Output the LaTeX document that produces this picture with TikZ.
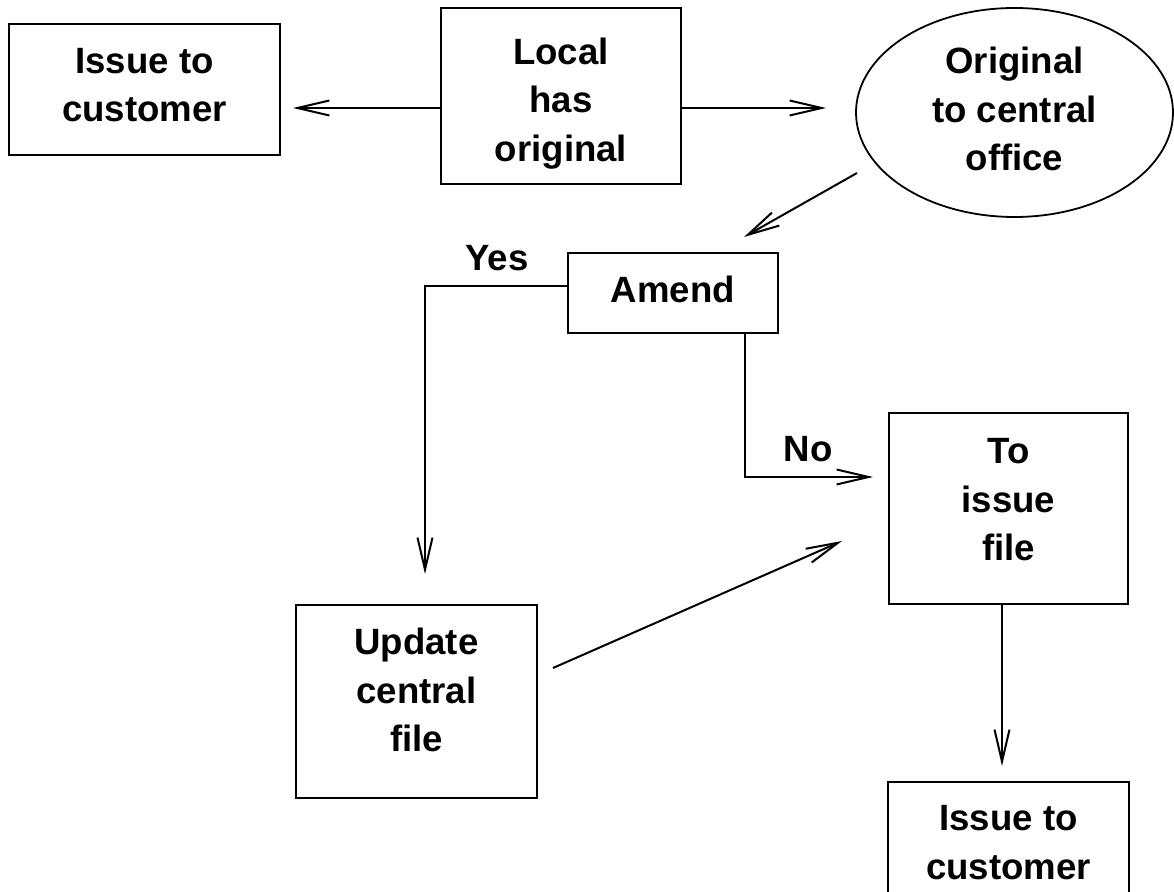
\documentclass[tikz,border=0pt]{standalone}
\usepackage{fontspec}
\setmainfont{Liberation Sans}
\usetikzlibrary{arrows.meta,shapes.geometric}
% #1 extra height (moves text down by half), #2 extra depth (moves text up by half)
\newcommand{\mylines}[3]{\raisebox{0pt}[\dimexpr\height+#1\relax][\dimexpr\depth+#2\relax]{\begin{tabular}{@{}c@{}}#3\end{tabular}}}
\begin{document}
\begin{tikzpicture}[x=0.5pt,y=-0.5pt,
  every node/.style={font=\fontsize{18.3}{24.25}\selectfont\bfseries, inner sep=0pt},
  box/.style={draw, line width=1.25pt},
  conn/.style={line width=1pt, -{Straight Barb[length=16pt,width=7.5pt,line width=1pt]}}]
\useasboundingbox (0,0) rectangle (1174,892);
\clip (0,0) rectangle (1174,892);
% nodes
\node[box, minimum width=135.5pt, minimum height=65.5pt] (ic1) at (144.5,89.5) {\mylines{0pt}{1.7pt}{Issue to\\customer}};
\node[box, minimum width=120pt, minimum height=88pt] (local) at (561,96) {\mylines{7.3pt}{0pt}{Local\\has\\original}};
\node[draw, line width=0.9pt, ellipse, minimum width=158.5pt, minimum height=104.5pt] (orig) at (1014.5,112.5) {\mylines{0pt}{0pt}{Original\\to central\\office}};
\node[box, minimum width=105pt, minimum height=40pt] (amend) at (673,293) {\mylines{0pt}{0pt}{Amend}};
\node[box, minimum width=120.5pt, minimum height=96.5pt] (update) at (416.5,701.5) {\mylines{0pt}{7.7pt}{Update\\central\\file}};
\node[box, minimum width=119.5pt, minimum height=95.5pt] (tofile) at (1008.5,508.5) {\mylines{0pt}{5.7pt}{To\\issue\\file}};
\node[box, minimum width=120.5pt, minimum height=64.5pt] (ic2) at (1008.5,846.5) {\mylines{0pt}{1.2pt}{Issue to\\customer}};
% labels
\node[anchor=base] (yes) at (497,271) {Yes};
\node[anchor=base] (no) at (808,462) {No};
% connector end points
\coordinate (l1) at (441,108);
\coordinate (e1) at (293,108);
\coordinate (l2) at (681,108);
\coordinate (e2) at (826,108);
\coordinate (o1) at (857,173);
\coordinate (e3) at (744,237);
\coordinate (a1) at (568,286);
\coordinate (y1) at (425,286);
\coordinate (e4) at (425,574);
\coordinate (a2) at (745,333);
\coordinate (n1) at (745,477);
\coordinate (e5) at (873,477);
\coordinate (u1) at (553,668);
\coordinate (e6) at (842,541);
\coordinate (t1) at (1002,604);
\coordinate (e7) at (1002,766);
% connectors
\draw[conn] (l1) -- (e1);
\draw[conn] (l2) -- (e2);
\draw[conn] (o1) -- (e3);
\draw[conn] (a1) -- (y1) -- (e4);
\draw[conn] (a2) -- (n1) -- (e5);
\draw[conn] (u1) -- (e6);
\draw[conn] (t1) -- (e7);
\end{tikzpicture}
\end{document}
